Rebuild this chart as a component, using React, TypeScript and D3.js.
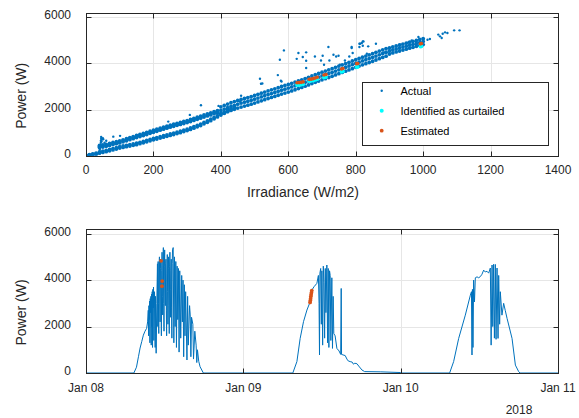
import * as d3 from "d3";

// ---- top panel: irradiance vs power scatter ----
// main band, sampled every 10 W/m2 (low edge / centre / high edge)
const bandIrr = [
  0, 10, 20, 30, 40, 50, 60, 70, 80, 90,
  100, 110, 120, 130, 140, 150, 160, 170, 180, 190,
  200, 210, 220, 230, 240, 250, 260, 270, 280, 290,
  300, 310, 320, 330, 340, 350, 360, 370, 380, 390,
  400, 410, 420, 430, 440, 450, 460, 470, 480, 490,
  500, 510, 520, 530, 540, 550, 560, 570, 580, 590,
  600, 610, 620, 630, 640, 650, 660, 670, 680, 690,
  700, 710, 720, 730, 740, 750, 760, 770, 780, 790,
  800, 810, 820, 830, 840, 850, 860, 870, 880, 890,
  900, 910, 920, 930, 940, 950, 960, 970, 980, 990,
  1000,
];
const bandMid = [
  10, 30, 55, 85, 400, 420, 450, 490, 530, 565,
  600, 645, 690, 740, 785, 830, 875, 920, 965, 1015,
  1060, 1105, 1150, 1195, 1240, 1280, 1320, 1360, 1400, 1440,
  1480, 1525, 1575, 1625, 1670, 1720, 1770, 1815, 1865, 1910,
  1960, 2020, 2080, 2135, 2185, 2235, 2280, 2320, 2360, 2405,
  2450, 2500, 2550, 2600, 2650, 2695, 2740, 2790, 2840, 2885,
  2930, 2980, 3030, 3080, 3130, 3185, 3240, 3295, 3350, 3405,
  3460, 3510, 3560, 3615, 3670, 3725, 3780, 3835, 3890, 3945,
  4000, 4055, 4110, 4160, 4210, 4265, 4320, 4375, 4430, 4485,
  4540, 4585, 4630, 4670, 4710, 4750, 4790, 4830, 4870, 4910,
  4950,
];
const bandLow = [
  0, 15, 35, 60, 355, 375, 405, 445, 485, 520,
  555, 600, 645, 695, 740, 785, 830, 875, 920, 970,
  1015, 1060, 1105, 1150, 1195, 1235, 1275, 1315, 1355, 1395,
  1435, 1480, 1530, 1580, 1625, 1675, 1725, 1770, 1820, 1865,
  1820, 1850, 1910, 1965, 2015, 2065, 2110, 2150, 2190, 2235,
  2280, 2330, 2380, 2430, 2480, 2525, 2570, 2620, 2670, 2715,
  2760, 2810, 2860, 2910, 2960, 3015, 3070, 3125, 3180, 3235,
  3290, 3340, 3390, 3445, 3500, 3555, 3610, 3665, 3720, 3775,
  3830, 3885, 3940, 3990, 4040, 4095, 4150, 4205, 4260, 4315,
  4410, 4455, 4500, 4540, 4580, 4620, 4660, 4700, 4740, 4780,
  4820,
];
const bandHigh = [
  0, 45, 80, 115, 445, 465, 495, 535, 575, 610,
  645, 690, 735, 785, 830, 875, 920, 965, 1010, 1060,
  1105, 1150, 1195, 1240, 1285, 1325, 1365, 1405, 1445, 1485,
  1525, 1570, 1620, 1670, 1715, 1765, 1815, 1860, 1910, 1955,
  2120, 2180, 2240, 2295, 2345, 2395, 2440, 2480, 2520, 2565,
  2610, 2660, 2710, 2760, 2810, 2855, 2900, 2950, 3000, 3045,
  3090, 3140, 3190, 3240, 3290, 3345, 3400, 3455, 3510, 3565,
  3620, 3670, 3720, 3775, 3830, 3885, 3940, 3995, 4050, 4105,
  4160, 4215, 4270, 4320, 4370, 4425, 4480, 4535, 4590, 4645,
  4670, 4715, 4760, 4800, 4840, 4880, 4920, 4960, 5000, 5040,
  5080,
];
// lower branch at low irradiance
const lowerIrr = [
  40, 50, 60, 70, 80, 90, 100, 110, 120, 130,
  140, 150, 160, 170, 180, 190, 200, 210, 220, 230,
  240, 250, 260, 270, 280, 290, 300, 310, 320, 330,
  340, 350, 360, 370, 380, 390, 400, 410, 420, 430,
  440,
];
const lowerA = [
  110, 140, 175, 210, 250, 290, 330, 360, 390, 420,
  450, 480, 520, 560, 600, 645, 690, 725, 765, 805,
  840, 880, 920, 960, 1000, 1045, 1090, 1140, 1195, 1250,
  1310, 1380, 1450, 1520, 1600, 1680, 1760, 1840, 1920, 1990,
  2060,
];
const lowerB = [
  170, 200, 235, 270, 310, 350, 390, 420, 450, 480,
  510, 540, 580, 620, 660, 705, 750, 785, 825, 865,
  900, 940, 980, 1020, 1060, 1105, 1150, 1200, 1255, 1310,
  1370, 1440, 1510, 1580, 1660, 1740, 1820, 1900, 1980, 2050,
  2120,
];
// scattered points off the band
const outliers: [number, number][] = [
  [40, 150], [41, 260], [42, 360], [43, 470], [44, 560], [44, 650], [45, 730], [45, 810],
  [46, 620], [47, 700], [50, 760], [51, 713], [55, 560], [60, 650], [81, 826], [101, 860],
  [244, 1478], [308, 1770], [341, 2190], [393, 2160], [457, 2350], [460, 2596],
  [516, 3335], [519, 3117], [523, 3130], [569, 3495], [575, 4160], [578, 3250], [580, 3220],
  [587, 4565], [625, 4200], [630, 4452], [643, 4280], [653, 4480], [653, 4117], [653, 3800],
  [679, 4300], [697, 4130], [702, 4335], [706, 3943], [719, 4713], [722, 4130], [734, 4378],
  [742, 4304], [749, 4335], [753, 3943], [768, 4130], [781, 4304], [791, 4452], [788, 4713],
  [811, 4713], [811, 4856], [821, 4956], [833, 4422], [860, 4856], [884, 4478], [788, 4670],
  [813, 4856], [823, 4956], [821, 4770], [837, 4740], [818, 4887], [933, 4813], [956, 4913],
  [966, 5000], [986, 5148], [1001, 5030], [1013, 5030], [1020, 5060], [1045, 5250],
  [1050, 5174], [1055, 5104], [1058, 5290], [1065, 5348], [1072, 5322], [1092, 5435],
  [1108, 5435],
];
const curtailed: [number, number][] = [
  [626, 3060], [632, 3070], [638, 3080], [644, 3100], [662, 3230], [668, 3250], [674, 3260],
  [680, 3290], [686, 3320], [706, 3390], [712, 3410], [758, 3640], [762, 3660], [803, 3840],
  [806, 3850], [992, 4730], [995, 4745],
];
const estimated: [number, number][] = [
  [626, 3160], [632, 3170], [638, 3180], [644, 3200], [662, 3310], [668, 3320], [674, 3340],
  [680, 3370], [686, 3400], [706, 3500], [712, 3520], [758, 3760], [762, 3780], [803, 3990],
  [806, 4000], [992, 4850], [995, 4865],
];
const irrTicks = [0, 200, 400, 600, 800, 1000, 1200, 1400];
const powTicks = [0, 2000, 4000, 6000];
const legendLabels = ["Actual", "Identified as curtailed", "Estimated"];

// ---- bottom panel: power over time (hours since Jan 08 00:00) ----
const day1: [number, number][] = [
  [0, 0], [7.3, 0], [7.7, 250], [8.0, 700], [8.25, 1075], [8.5, 1350], [8.75, 1630], [9.0, 1800],
  [9.25, 1920], [9.4, 2200], [9.5, 2700], [9.55, 1600], [9.6, 2900], [9.65, 2300], [9.7, 3100],
  [9.75, 1300], [9.8, 3200], [9.85, 2600], [9.9, 3300], [9.95, 1200], [10.0, 3400], [10.05, 2000],
  [10.1, 3500], [10.15, 1100], [10.2, 3600], [10.25, 2800], [10.3, 3700], [10.35, 1400],
  [10.45, 3500], [10.55, 1100], [10.6, 3300], [10.7, 850], [10.8, 3000], [10.9, 4700],
  [10.95, 2000], [11.0, 4800], [11.05, 3000], [11.1, 1700], [11.15, 4600], [11.2, 5000],
  [11.25, 3400], [11.3, 2200], [11.35, 4500], [11.4, 4900], [11.45, 2800], [11.5, 1600],
  [11.55, 4400], [11.6, 5200], [11.65, 3300], [11.7, 2500], [11.75, 4700], [11.8, 5400],
  [11.85, 3000], [11.9, 1800], [11.95, 4600], [12.0, 5300], [12.05, 3800], [12.1, 2900],
  [12.15, 4700], [12.2, 4900], [12.25, 2700], [12.3, 1600], [12.35, 4300], [12.4, 5100],
  [12.45, 3500], [12.5, 2100], [12.55, 4500], [12.6, 5000], [12.65, 2900], [12.7, 1700],
  [12.75, 4600], [12.8, 5200], [12.85, 3600], [12.9, 2400], [12.95, 4400], [13.0, 4900],
  [13.05, 2800], [13.1, 1500], [13.15, 4700], [13.2, 5300], [13.3, 5400], [13.4, 1300],
  [13.5, 5000], [13.6, 2000], [13.7, 4800], [13.8, 1100], [13.9, 4600], [14.0, 2300],
  [14.1, 4500], [14.2, 900], [14.3, 4400], [14.45, 1500], [14.6, 4200], [14.7, 2200],
  [14.8, 4000], [14.9, 700], [15.0, 3800], [15.1, 1600], [15.2, 3500], [15.4, 560],
  [15.5, 3300], [15.6, 1200], [15.8, 2900], [15.9, 2500], [16.0, 700], [16.1, 2400],
  [16.3, 2100], [16.4, 600], [16.6, 1800], [16.8, 1200], [16.9, 450], [17.0, 1000],
  [17.2, 500], [17.4, 270], [17.9, 0],
];
const day2: [number, number][] = [
  [31.55, 0], [32.17, 490], [32.67, 1490], [33.18, 2210], [33.7, 2710], [34.2, 3070],
  [34.45, 3570], [34.8, 3720], [35.22, 3860], [35.45, 4200], [35.55, 3000], [35.62, 775],
  [35.68, 4300], [35.8, 4500], [35.9, 2100], [35.98, 4400], [36.1, 1200], [36.2, 4600],
  [36.3, 3900], [36.4, 1500], [36.5, 4500], [36.6, 2600], [36.74, 4650], [36.85, 1300],
  [36.95, 4500], [37.05, 1100], [37.15, 4400], [37.25, 4200], [37.35, 1400], [37.5, 4100],
  [37.6, 1060], [37.7, 3300], [37.8, 1700], [38.0, 1600], [38.27, 1060], [38.6, 950],
  [38.85, 800], [38.93, 3640], [38.98, 800], [39.2, 780], [39.54, 750], [39.8, 600],
  [40.0, 520], [40.3, 490], [40.6, 470], [40.8, 380], [41.0, 420], [41.33, 400], [41.6, 300],
  [42.09, 130], [42.5, 60], [44.89, 50], [48.0, 20], [48.2, 0],
];
const day3: [number, number][] = [
  [55.47, 0], [56.08, 490], [56.85, 1490], [57.86, 2490], [58.63, 3350], [58.8, 3500],
  [58.88, 775], [58.95, 3600], [59.03, 1100], [59.13, 4000], [59.26, 3060], [59.39, 4100],
  [59.65, 4140], [59.9, 4100], [60.15, 4150], [60.4, 4250], [60.66, 4430], [60.9, 4350],
  [61.17, 4380], [61.42, 4300], [61.68, 4520], [61.8, 1200], [61.94, 4650], [62.05, 2000],
  [62.18, 4680], [62.3, 1500], [62.44, 4675], [62.55, 1450], [62.7, 4520], [62.85, 1490],
  [62.95, 4200], [63.1, 2100], [63.2, 3500], [63.45, 2490], [63.71, 3000], [63.95, 2700],
  [64.23, 2350], [64.99, 1490], [65.5, 340], [66.0, 60], [66.2, 0], [72, 0],
];
const estimatedTime: [number, number][] = [
  [11.45, 4830], [11.62, 3960], [11.58, 3740],
  [34.18, 3040], [34.22, 3120], [34.26, 3200], [34.3, 3290], [34.34, 3370], [34.39, 3460], [34.44, 3550],
];
const timeTicks = [0, 24, 48, 72];
const timeTickLabels = ["Jan 08", "Jan 09", "Jan 10", "Jan 11"];

const BLUE = "#0072BD";
const CYAN = "#00FFFF";
const ORANGE = "#D95319";
const AX = "#262626";
const GRID = "#e6e6e6";
const FONT = "'Liberation Sans', Arial, Helvetica, sans-serif";

const L = 86, R = 558;
const px = (v: number) => Math.round(v) + 0.5;

function TickLabels({ x, y, xTicks, yTicks, xLabel }: any) {
  const y0 = y.range()[0];
  return (
    <g>
      {yTicks.map((t: number) => (
        <text key={"yl" + t} x={L - 15} y={y(t) + 2} textAnchor="end" fontSize={12} fill={AX}>
          {t}
        </text>
      ))}
      {xTicks.map((t: number, i: number) => (
        <text key={"xl" + t} x={x(t)} y={y0 + 18.5} textAnchor="middle" fontSize={12} fill={AX}>
          {xLabel ? xLabel[i] : t}
        </text>
      ))}
    </g>
  );
}

function Grid({ x, y, xTicks, yTicks }: any) {
  const [x0, x1] = x.range();
  const [y0, y1] = y.range();
  return (
    <g stroke={GRID} strokeWidth={1}>
      {xTicks.slice(1, -1).map((t: number) => (
        <line key={"gx" + t} x1={px(x(t))} x2={px(x(t))} y1={y0} y2={y1} />
      ))}
      {yTicks.slice(1).map((t: number) => (
        <line key={"gy" + t} x1={x0} x2={x1} y1={px(y(t))} y2={px(y(t))} />
      ))}
    </g>
  );
}

function Box({ x, y, xTicks, yTicks }: any) {
  const [x0, x1] = x.range();
  const [y0, y1] = y.range();
  const tl = 5;
  return (
    <g stroke={AX} strokeWidth={1} fill="none">
      <rect x={px(x0)} y={px(y1)} width={Math.round(x1) - Math.round(x0)} height={Math.round(y0) - Math.round(y1)} />
      {xTicks.map((t: number) => (
        <g key={"tx" + t}>
          <line x1={px(x(t))} x2={px(x(t))} y1={px(y0)} y2={px(y0) - tl} />
          <line x1={px(x(t))} x2={px(x(t))} y1={px(y1)} y2={px(y1) + tl} />
        </g>
      ))}
      {yTicks.map((t: number) => (
        <g key={"ty" + t}>
          <line x1={px(x0)} x2={px(x0) + tl} y1={px(y(t))} y2={px(y(t))} />
          <line x1={px(x1)} x2={px(x1) - tl} y1={px(y(t))} y2={px(y(t))} />
        </g>
      ))}
    </g>
  );
}

export default function App() {
  const xs = d3.scaleLinear().domain([0, 1400]).range([L, R]);
  const ys = d3.scaleLinear().domain([0, 6200]).range([155.7, 12.7]);
  const xt = d3.scaleLinear().domain([0, 72]).range([L, R]);
  const yb = d3.scaleLinear().domain([0, 6200]).range([373, 229]);

  // dense band points (drawn a little larger so the band reads as solid)
  const band: [number, number][] = [];
  bandIrr.forEach((v, i) => {
    band.push([v, bandLow[i]], [v, bandMid[i]], [v, bandHigh[i]]);
  });
  lowerIrr.forEach((v, i) => {
    band.push([v, lowerA[i]], [v, lowerB[i]]);
  });

  const series = [...day1, ...day2, ...day3];
  const line = d3
    .line<[number, number]>()
    .x((d) => xt(d[0]))
    .y((d) => yb(d[1]));

  const legendRows = [
    { label: legendLabels[0], color: BLUE, r: 1.2 },
    { label: legendLabels[1], color: CYAN, r: 2 },
    { label: legendLabels[2], color: ORANGE, r: 1.9 },
  ];

  return (
    <svg
      width={579}
      height={418}
      style={{ position: "absolute", left: 0, top: 0, background: "#fff" }}
      fontFamily={FONT}
    >
      <defs>
        <clipPath id="c1">
          <rect x={L} y={12.7} width={R - L} height={143} />
        </clipPath>
        <clipPath id="c2">
          <rect x={L} y={229} width={R - L} height={144} />
        </clipPath>
      </defs>

      {/* top panel */}
      <Grid x={xs} y={ys} xTicks={irrTicks} yTicks={powTicks} />
      <g clipPath="url(#c1)">
        {band.map((d, i) => (
          <circle key={"b" + i} cx={xs(d[0])} cy={ys(d[1])} r={1.9} fill={BLUE} />
        ))}
        {outliers.map((d, i) => (
          <circle key={"o" + i} cx={xs(d[0])} cy={ys(d[1])} r={1.2} fill={BLUE} />
        ))}
        {curtailed.map((d, i) => (
          <circle key={"c" + i} cx={xs(d[0])} cy={ys(d[1])} r={1.9} fill={CYAN} />
        ))}
        {estimated.map((d, i) => (
          <circle key={"e" + i} cx={xs(d[0])} cy={ys(d[1])} r={1.8} fill={ORANGE} />
        ))}
      </g>
      <Box x={xs} y={ys} xTicks={irrTicks} yTicks={powTicks} />
      <TickLabels x={xs} y={ys} xTicks={irrTicks} yTicks={powTicks} />
      <text x={303} y={197} textAnchor="middle" fontSize={14} fill={AX}>
        Irradiance (W/m2)
      </text>
      <text transform="translate(25.5,95.8) rotate(-90)" textAnchor="middle" fontSize={14} fill={AX}>
        Power (W)
      </text>

      {/* legend */}
      <rect x={362.5} y={82.5} width={186} height={63} fill="#fff" stroke={AX} strokeWidth={1} />
      {legendRows.map((row, i) => (
        <g key={"lg" + i} transform={`translate(0,${90.7 + i * 20})`}>
          <circle cx={381.7} cy={0} r={row.r} fill={row.color} />
          <text x={400.5} y={4} fontSize={11} fill="#000">
            {row.label}
          </text>
        </g>
      ))}

      {/* bottom panel */}
      <Grid x={xt} y={yb} xTicks={timeTicks} yTicks={powTicks} />
      <g clipPath="url(#c2)">
        <path d={line(series) || ""} fill="none" stroke={BLUE} strokeWidth={1} />
        {estimatedTime.map((d, i) => (
          <circle key={"et" + i} cx={xt(d[0])} cy={yb(d[1])} r={1.9} fill={ORANGE} />
        ))}
      </g>
      <Box x={xt} y={yb} xTicks={timeTicks} yTicks={powTicks} />
      <TickLabels x={xt} y={yb} xTicks={timeTicks} yTicks={powTicks} xLabel={timeTickLabels} />
      <text transform="translate(25.5,312.5) rotate(-90)" textAnchor="middle" fontSize={14} fill={AX}>
        Power (W)
      </text>
      <text x={519} y={413.5} textAnchor="middle" fontSize={12} fill={AX}>
        2018
      </text>
    </svg>
  );
}
